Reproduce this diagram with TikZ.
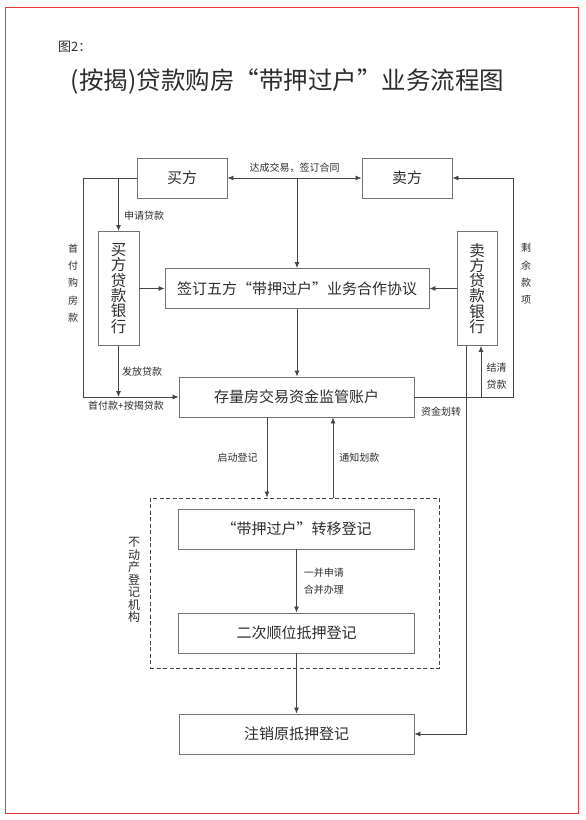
\documentclass[tikz,border=0pt]{standalone}
\usepackage{fontspec}
\setmainfont{Noto Sans CJK SC}
\usetikzlibrary{arrows.meta,positioning}
\definecolor{flowline}{RGB}{70,70,70}
\definecolor{flowbox}{RGB}{115,115,115}
\definecolor{flowtext}{RGB}{45,45,45}
\definecolor{pagered}{RGB}{226,60,60}

\begin{document}
\begin{tikzpicture}[
  x=1pt, y=-1pt,
  every node/.style={text=flowtext},
  partybox/.style={draw=flowbox,line width=0.9pt,minimum width=90pt,minimum height=40pt,
                   inner sep=0pt,font=\fontsize{15}{18}\selectfont},
  bankbox/.style={draw=flowbox,line width=0.9pt,minimum width=41pt,minimum height=114pt,
                  inner sep=0pt,align=center,font=\fontsize{15.5}{15.3}\selectfont},
  stepbox/.style={draw=flowbox,line width=0.9pt,minimum width=236pt,minimum height=40pt,
                  inner sep=0pt,font=\fontsize{15}{18}\selectfont},
  regbox/.style={draw=flowline,dash pattern=on 4pt off 2.5pt,line width=0.9pt,
                 minimum width=289pt,minimum height=170pt,inner sep=0pt},
  lbl/.style={font=\fontsize{10}{17}\selectfont,inner sep=1pt,align=left},
  vlbl/.style={font=\fontsize{10}{17.2}\selectfont,inner sep=1pt,align=center},
  arr/.style={-{Latex[length=6pt,width=5pt]},line width=0.8pt,flowline},
]
  \useasboundingbox (0,0) rectangle (586,820);
  \draw[pagered,line width=1pt] (5,7) rectangle (578,813);

  % Heading
  \node[anchor=west,font=\fontsize{13}{15}\selectfont,inner sep=0pt] (fig) at (58,47) {图2：};
  \node[font=\fontsize{24.5}{27}\selectfont,inner sep=0pt] (title) at (287.5,82)
    {(按揭)贷款购房“带押过户”业务流程图};

  % Buyer and seller
  \node[partybox] (buyer) at (182,178) {买方};
  \node[partybox] (seller) at (407,178) {卖方};

  % Banks
  \node[bankbox] (bbank) at (118.5,288.5) {买\\方\\贷\\款\\银\\行};
  \node[bankbox,minimum width=40pt] (sbank) at (477,288.5) {卖\\方\\贷\\款\\银\\行};

  % Agreement and escrow account
  \node[stepbox,minimum width=264pt] (agree) at (297,288.5) {签订五方“带押过户”业务合作协议};
  \node[stepbox,minimum width=235pt] (escrow) at (296.5,397) {存量房交易资金监管账户};

  % Registry office
  \node[regbox] (reg) at (294.5,583) {};
  \node[font=\fontsize{12}{12.5}\selectfont,align=center,inner sep=0pt] (regname) at (134,580)
    {不\\动\\产\\登\\记\\机\\构};
  \node[stepbox] (transfer) at (296.5,529) {“带押过户”转移登记};
  \node[stepbox] (second) at (296.5,633) {二次顺位抵押登记};

  % Cancel old mortgage
  \node[stepbox,minimum width=235pt] (cancel) at (296.5,734) {注销原抵押登记};

  % Corners of the outer paths
  \coordinate (lcorner) at (83,178);
  \coordinate (rcorner) at (513,397);

  % Arrows: top
  \draw[arr,{Latex[length=6pt,width=5pt]}-{Latex[length=6pt,width=5pt]}] (buyer) -- (seller)
    node[midway,above=4pt,lbl] {达成交易，签订合同};
  \draw[arr] (agree.north |- buyer.east) -- (agree.north);

  % Arrows: buyer side
  \draw[arr] (buyer.west) -- (lcorner) |- (escrow.west);
  \draw[arr] (bbank.north |- buyer.west) -- (bbank.north);
  \draw[arr] (bbank.south) -- (bbank.south |- escrow.west);
  \draw[arr] (bbank) -- (agree);
  \node[lbl] (applyloan) at (144,216) {申请贷款};
  \node[lbl] (grantloan) at (142,372) {发放贷款};
  \node[lbl] (payloan) at (126,406) {首付款+按揭贷款};
  \node[vlbl] (downpay) at (73,283) {首\\付\\购\\房\\款};

  % Arrows: seller side
  \draw[arr] (sbank) -- (agree);
  \draw[arr] (escrow.east) -- (rcorner) |- (seller.east);
  \draw[arr] ([xshift=4pt]sbank.south |- escrow.east) -- ([xshift=4pt]sbank.south);
  \draw[arr] ([xshift=-11pt]sbank.south) |- (cancel.east);
  \node[vlbl] (rest) at (526,274) {剩\\余\\款\\项};
  \node[lbl] (settle) at (496.5,376) {结清\\贷款};
  \node[lbl] (fundmove) at (441,412) {资金划转};

  % Arrows: middle column
  \draw[arr] (agree.south) -- (agree.south |- escrow.north);
  \draw[arr] ([xshift=-29.5pt]escrow.south) -- ([xshift=-29.5pt]escrow.south |- reg.north)
    node[midway,left=8pt,lbl] {启动登记};
  \draw[arr] ([xshift=36.5pt]escrow.south |- reg.north) -- ([xshift=36.5pt]escrow.south)
    node[midway,right=5pt,lbl] {通知划款};
  \draw[arr] (transfer) -- (second)
    node[midway,right=6pt,lbl] {一并申请\\合并办理};
  \draw[arr] (second) -- (cancel);
\end{tikzpicture}
\end{document}
